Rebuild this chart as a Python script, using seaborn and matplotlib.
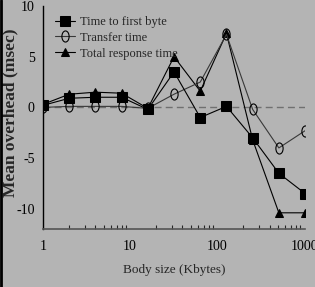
import numpy as np
import pandas as pd
import matplotlib
matplotlib.use('Agg')
from matplotlib import pyplot as plt
from matplotlib.path import Path
from matplotlib.transforms import Affine2D
import seaborn as sns

# body sizes (Kbytes) and mean overheads (msec)
body_size = [1, 2, 4, 8, 16, 32, 64, 128, 256, 512, 1024]
first_byte = [0.2, 0.9, 1.0, 1.0, -0.2, 3.5, -1.0, 0.1, -3.0, -6.5, -8.5]
transfer = [0.0, 0.1, 0.1, 0.1, -0.1, 1.3, 2.5, 7.2, -0.2, -4.0, -2.3]
total = [0.3, 1.3, 1.5, 1.4, -0.1, 5.0, 1.6, 7.3, -3.2, -10.4, -10.4]
x_ticks = [1, 10, 100, 1000]
y_ticks = [-10, -5, 0, 5, 10]

sns.set_style('white')
plt.rcParams['font.family'] = ['Liberation Serif', 'DejaVu Serif']
bg = '#b4b4b4'

# tall open ellipse like the original circles
ellipse = Path.unit_circle().transformed(Affine2D().scale(0.65, 1.0))

fig = plt.figure(figsize=(3.15, 2.87), dpi=100, facecolor=bg)
ax = fig.add_axes([0.1365, 0.202, 0.832, 0.777])
ax.set_facecolor(bg)

df = pd.DataFrame({'size': body_size, 'fb': first_byte, 'tr': transfer, 'tot': total})

ax.axhline(0, color='#707070', lw=1, ls=(0, (5, 3)), zorder=1)
sns.lineplot(data=df, x='size', y='tot', ax=ax, color='black', lw=0.8,
             marker='^', markersize=6, markeredgecolor='black',
             label='Total response time', zorder=3)
sns.lineplot(data=df, x='size', y='tr', ax=ax, color='#383838', lw=0.8,
             marker=ellipse, markersize=8, markerfacecolor='none',
             markeredgecolor='black', markeredgewidth=0.8,
             label='Transfer time', zorder=4)
sns.lineplot(data=df, x='size', y='fb', ax=ax, color='black', lw=0.8,
             marker='s', markersize=6.5, markeredgecolor='black',
             label='Time to first byte', zorder=5)

ax.set_xscale('log')
ax.set_xlim(1, 1024)
ax.set_ylim(-12, 10)
ax.set_xticks(x_ticks)
ax.set_xticklabels([str(t) for t in x_ticks])
ax.set_yticks(y_ticks)
ax.set_yticklabels([str(t) for t in y_ticks])
ax.tick_params(axis='both', direction='in', length=4, width=0.8, labelsize=10,
               colors='black')
ax.tick_params(axis='x', which='major', pad=8)
ax.tick_params(axis='x', which='minor', direction='in', length=3, width=0.8,
               bottom=True)
ax.tick_params(axis='y', pad=6)

for s in ['top', 'right']:
    ax.spines[s].set_visible(False)
ax.spines['left'].set_color('black')
ax.spines['left'].set_linewidth(1)
ax.spines['bottom'].set_color('#555555')
ax.spines['bottom'].set_linewidth(1.2)

ax.set_xlabel('Body size (Kbytes)', fontsize=9.5, labelpad=8)
ax.set_ylabel('Mean overhead (msec)', fontsize=12.5, fontweight='bold')
ax.yaxis.set_label_coords(-0.095, 0.52)

h, l = ax.get_legend_handles_labels()
order = [2, 1, 0]
ax.legend([h[i] for i in order], [l[i] for i in order], loc='upper left',
          bbox_to_anchor=(0.045, 0.955), frameon=False, fontsize=9,
          handlelength=1.6, handletextpad=0.4, labelspacing=0.3,
          borderaxespad=0, borderpad=0)

# thin black border on the left edge of the picture
fig.add_artist(plt.Line2D([0.003, 0.003], [0, 1], color='black', lw=2,
                          transform=fig.transFigure))

fig.savefig('out.png', dpi=100, facecolor=bg)
